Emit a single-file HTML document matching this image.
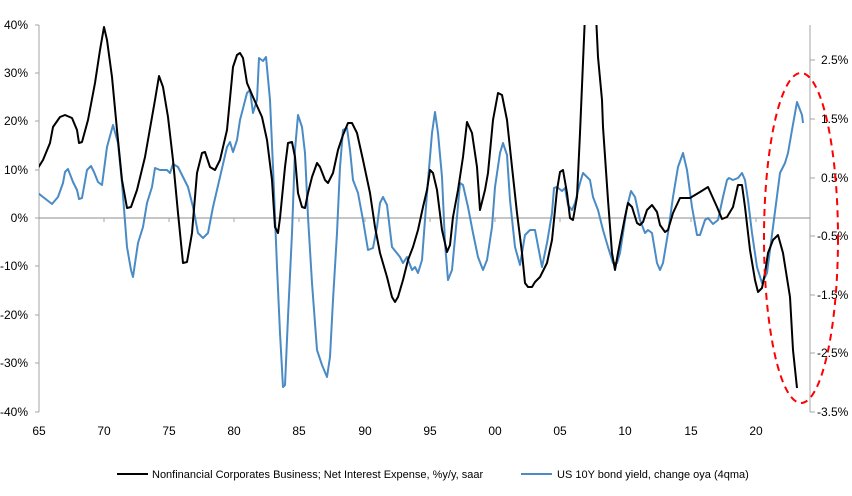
<!DOCTYPE html>
<html><head><meta charset="utf-8"><style>
html,body{margin:0;padding:0;background:#fff;}
svg{display:block;font-family:"Liberation Sans",Arial,sans-serif;}
</style></head><body>
<svg width="852" height="496" viewBox="0 0 852 496">
<g stroke="#a6a6a6" stroke-width="1" fill="none">
<line x1="39" y1="25" x2="39" y2="412"/>
<line x1="810" y1="25" x2="810" y2="412"/>
<line x1="39" y1="218" x2="810" y2="218" stroke="#8c8c8c"/>
<path d="M35 25H39M35 73H39M35 121H39M35 170H39M35 218H39M35 266H39M35 315H39M35 363H39M35 412H39"/>
<path d="M810 60H815M810 119H815M810 178H815M810 236H815M810 295H815M810 353H815M810 412H815"/>
<path d="M104 218V222M169 218V222M234 218V222M299 218V222M365 218V222M430 218V222M495 218V222M560 218V222M625 218V222M691 218V222M756 218V222"/>
</g>
<g font-size="12" fill="#000" text-anchor="end">
<text x="28" y="29">40%</text><text x="28" y="77">30%</text><text x="28" y="125">20%</text>
<text x="28" y="174">10%</text><text x="28" y="222">0%</text><text x="28" y="270">-10%</text>
<text x="28" y="319">-20%</text><text x="28" y="367">-30%</text><text x="28" y="416">-40%</text>
</g>
<g font-size="12" fill="#000">
<text x="821" y="64">2.5%</text><text x="821" y="123">1.5%</text><text x="821" y="182">0.5%</text>
<text x="817" y="240">-0.5%</text><text x="817" y="299">-1.5%</text><text x="817" y="357">-2.5%</text>
<text x="817" y="416">-3.5%</text>
</g>
<g font-size="12" fill="#000" text-anchor="middle">
<text x="39" y="435">65</text><text x="104" y="435">70</text><text x="169" y="435">75</text>
<text x="234" y="435">80</text><text x="299" y="435">85</text><text x="365" y="435">90</text>
<text x="430" y="435">95</text><text x="495" y="435">00</text><text x="560" y="435">05</text>
<text x="625" y="435">10</text><text x="691" y="435">15</text><text x="756" y="435">20</text>
</g>
<defs><clipPath id="c"><rect x="39" y="25" width="771" height="388"/></clipPath></defs>
<g clip-path="url(#c)" fill="none" stroke-width="2" stroke-linejoin="round">
<polyline stroke="#4a8bc6" points="38,193 43,197 52,204 58,197 63,183 65,172 68,169 73,182 77,190 79,199 82,198 87,170 91,166 94,172 98,182 102,185 107,147 113,125 118,143 122,183 127,247 131,270 133,277 138,243 143,227 147,203 152,187 155,168 160,170 167,170 170,173 173,164 178,167 183,177 188,187 193,207 198,233 203,238 208,233 213,207 220,177 227,147 230,142 233,152 237,140 240,120 247,93 250,90 253,113 257,100 259,58 263,61 266,57 270,100 273,167 277,267 280,333 283,387 285,385 288,317 292,233 295,150 298,115 302,127 305,153 308,217 312,283 317,350 322,365 327,377 330,357 333,300 337,233 340,167 343,130 347,128 350,150 353,180 358,193 363,220 368,250 373,248 377,227 380,203 383,197 387,205 392,247 400,257 403,263 407,257 412,270 415,267 418,273 422,260 427,193 432,133 435,112 438,133 442,177 445,243 448,280 452,270 457,217 460,183 463,185 468,207 473,233 478,257 483,270 487,260 492,227 495,187 500,153 503,143 507,155 510,200 515,247 520,265 525,235 530,230 535,230 542,267 547,243 552,213 554,188 557,187 562,191 565,188 568,205 572,210 575,203 580,183 583,173 590,180 593,197 598,210 603,230 608,247 613,263 617,263 620,253 627,207 631,191 635,197 640,220 645,233 648,230 652,233 657,263 660,270 663,263 668,233 673,197 678,167 683,153 687,170 692,207 697,235 700,235 705,220 708,218 713,224 718,220 723,197 727,180 729,178 733,180 738,178 742,173 745,180 748,200 752,233 757,267 762,283 767,273 773,227 780,173 785,163 788,153 792,130 797,102 802,115 803,123"/>
<polyline stroke="#000" points="38,168 43,160 50,143 53,127 60,117 65,115 72,118 77,130 79,143 82,142 88,120 95,83 100,50 104,27 107,40 112,77 117,130 122,180 127,208 131,207 137,190 145,157 155,100 159,76 163,87 168,117 173,160 178,213 183,263 187,262 192,233 197,173 202,153 205,152 210,167 215,170 220,160 227,130 233,67 237,55 240,53 243,58 247,83 253,97 262,117 267,140 272,180 275,227 278,233 280,218 285,167 288,143 292,142 295,157 298,193 302,207 305,208 308,193 312,177 317,163 320,167 325,180 328,183 333,173 338,150 343,135 348,123 352,123 357,133 363,160 370,193 375,227 380,253 387,277 392,297 395,302 398,297 403,280 408,260 413,247 418,230 423,207 427,190 430,170 433,173 437,190 442,230 447,252 450,245 453,217 458,190 463,157 467,122 472,133 477,167 480,210 485,190 488,173 493,120 498,93 502,95 507,120 512,167 517,213 522,253 525,283 528,287 532,287 535,282 540,277 547,263 552,240 557,190 560,172 563,170 567,193 570,218 573,220 577,197 580,133 585,15 596,15 598,57 602,100 603,127 608,200 612,253 615,270 618,253 625,217 628,203 632,207 637,223 640,225 643,222 647,210 652,205 657,212 660,225 665,232 668,230 673,213 680,198 690,198 700,192 708,187 717,207 722,219 727,217 733,207 738,185 742,185 745,207 750,250 755,280 758,292 762,288 765,273 768,253 773,240 778,235 783,253 790,297 793,350 797,388"/>
</g>
<ellipse cx="801" cy="238" rx="37" ry="165" fill="none" stroke="#ff0000" stroke-width="2" stroke-dasharray="7,5"/>
<line x1="117" y1="474" x2="148" y2="474" stroke="#000" stroke-width="2"/>
<text x="152" y="478" font-size="11">Nonfinancial Corporates Business; Net Interest Expense, %y/y, saar</text>
<line x1="521" y1="474" x2="552" y2="474" stroke="#4a8bc6" stroke-width="2"/>
<text x="557" y="478" font-size="11">US 10Y bond yield, change oya (4qma)</text>
</svg>
</body></html>
